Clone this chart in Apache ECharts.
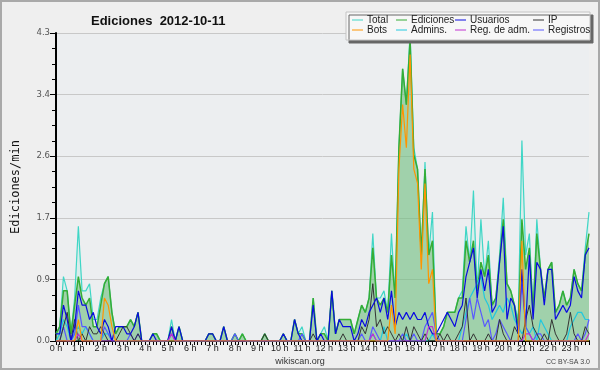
<!DOCTYPE html>
<html>
<head>
<meta charset="utf-8">
<script src="https://cdn.jsdelivr.net/npm/echarts@6/dist/echarts.min.js"></script>
<style>
  html, body { margin: 0; padding: 0; background: #efefef; }
  #chart { width: 596px; height: 366px; border: 2px solid #a9a9a9; }
</style>
</head>
<body>
<div id="chart"></div>
<script>
// 10-minute slots, one value per slot (edits per minute)
const hours = ['0','1','2','3','4','5','6','7','8','9','10','11','12','13','14','15','16','17','18','19','20','21','22','23'];
const slots = hours.flatMap(h => ['00','10','20','30','40','50'].map(m => h + ':' + m));

const total = [
  0.1,0.2,0.9,0.7,0.1,0.6, 1.6,0.7,0.7,0.8,0.3,0.3,
  0.6,0.8,0.9,0.4,0.1,0.2, 0.2,0.2,0.3,0.2,0.4,0,
  0,0,0.1,0.1,0,0, 0,0.3,0,0.2,0,0,
  0,0,0,0,0,0.1, 0.1,0,0,0.2,0,0,
  0.1,0,0.1,0,0,0, 0,0,0.1,0,0,0,
  0,0.1,0,0,0.3,0.1, 0.2,0,0,0.6,0,0.1,
  0.2,0,0.7,0.1,0.3,0.3, 0.3,0.3,0.1,0.3,0.5,0.4,
  0.6,1.5,0.6,0.6,0.7,0.4, 1.5,0.6,2.7,3.8,3.3,4.3,
  2.7,2.4,1.2,2.5,1.2,1.8, 0.1,0.1,0.2,0.4,0.4,0.4,
  0.6,0.7,1.6,1.1,2.1,0.7, 1.7,0.9,1.4,0.5,0.6,1.2,
  2.0,0.8,0.7,0.5,0.3,2.8, 1.2,1.5,0.4,1.7,1.0,0.6,
  1.0,1.1,0.4,0.5,0.7,0.5, 0.6,1.0,0.8,0.7,1.3,1.8
];
const ediciones = [
  0.1,0.2,0.7,0.7,0.1,0.5, 0.9,0.6,0.5,0.6,0.2,0.2,
  0.5,0.8,0.9,0.4,0.1,0.2, 0.2,0.2,0.3,0.2,0.4,0,
  0,0,0.1,0.1,0,0, 0,0.2,0,0.2,0,0,
  0,0,0,0,0,0.1, 0.1,0,0,0.2,0,0,
  0.1,0,0.1,0,0,0, 0,0,0.1,0,0,0,
  0,0.1,0,0,0.3,0.1, 0.1,0,0,0.6,0,0.1,
  0.1,0,0.7,0.1,0.3,0.3, 0.3,0.3,0.1,0.3,0.5,0.4,
  0.6,1.3,0.6,0.5,0.6,0.4, 1.2,0.6,2.7,3.8,3.3,4.2,
  2.6,2.4,1.2,2.4,1.2,1.4, 0.1,0.1,0.2,0.4,0.4,0.4,
  0.6,0.6,1.4,1.1,1.4,0.7, 1.1,0.9,1.2,0.5,0.6,1.1,
  1.7,0.8,0.7,0.5,0.2,1.7, 1.0,1.3,0.4,1.5,1.0,0.6,
  1.0,1.1,0.4,0.5,0.7,0.5, 0.6,1.0,0.8,0.7,1.2,1.5
];
const usuarios = [
  0.1,0.1,0.5,0.3,0,0.2, 0.7,0.5,0.5,0.3,0.4,0.2,
  0.1,0.3,0.2,0,0.2,0.2, 0.2,0.1,0.1,0.2,0.4,0,
  0,0,0.1,0,0,0, 0,0.2,0,0.2,0,0,
  0,0,0,0,0,0.1, 0.1,0,0,0.2,0,0,
  0,0,0,0,0,0, 0,0,0,0,0,0,
  0,0.1,0,0,0.3,0.1, 0,0,0,0.5,0,0.1,
  0,0,0.7,0.1,0.3,0.2, 0.2,0.2,0,0.1,0.3,0.2,
  0.4,0.5,0.6,0.4,0.6,0.3, 0.7,0.2,0.4,0.3,0.4,0.3,
  0.4,0.3,0.3,0.4,0.2,0.1, 0.1,0.2,0.3,0.4,0.3,0.2,
  0.4,0.5,0.9,1.1,1.3,0.6, 1.0,0.7,1.0,0.4,0.5,1.1,
  1.6,0.3,0.6,0.5,0.1,1.0, 0.2,1.2,0.3,1.1,1.0,0.5,
  1.0,1.0,0.3,0.4,0.5,0.4, 0.5,0.9,0.7,0.6,1.2,1.3
];
const ip = [
  0,0,0.2,0.4,0,0.3, 0,0.1,0,0.2,0.1,0.1,
  0.2,0.1,0,0,0,0.1, 0.2,0.2,0.1,0,0.1,0,
  0,0,0,0,0,0, 0,0,0,0,0,0,
  0,0,0,0,0,0, 0,0,0,0,0,0,
  0,0,0,0,0,0, 0,0,0.1,0,0,0,
  0,0,0,0,0,0, 0,0,0,0.1,0,0,
  0,0,0,0,0,0.1, 0,0,0,0,0.2,0.1,
  0.3,0.8,0.2,0.3,0.1,0.2, 0.1,0,0.1,0,0.2,0,
  0.2,0.1,0,0.1,0,0, 0,0.1,0,0.1,0,0,
  0.1,0.2,0.6,0,0.1,0, 0,0,0.1,0,0,0.3,
  0.1,0,0,0.2,0.1,0, 0.3,0.5,0.2,0.1,0,0.1,
  0,0.3,0.1,0,0,0.1, 0.4,0.1,0,0,0.2,0.1
];
const bots = [
  0,0,0,0,0,0, 0.3,0,0,0,0,0,
  0,0.6,0.5,0.2,0,0, 0,0,0,0,0,0,
  0,0,0,0,0,0, 0,0,0,0,0,0,
  0,0,0,0,0,0, 0,0,0,0,0,0,
  0,0,0,0,0,0, 0,0,0,0,0,0,
  0,0,0,0,0,0, 0,0,0,0,0,0,
  0,0,0,0,0,0, 0,0,0,0,0,0,
  0,0,0,0,0,0, 0.5,0.1,2.4,3.3,2.7,4.0,
  2.4,2.2,1.0,2.2,0.8,1.0, 0,0,0,0,0,0,
  0,0,0,0,0,0, 0,0,0,0,0,0,
  0,0,0,0,0,1.4, 0,0,0,0,0,0,
  0,0,0,0,0,0, 0,0,0,0,0,0
];
const admins = [
  0,0.1,0.3,0.2,0,0.1, 0.2,0.1,0.2,0.1,0,0,
  0,0.1,0.1,0,0,0, 0,0,0,0,0,0,
  0,0,0,0,0,0, 0,0,0,0,0,0,
  0,0,0,0,0,0, 0,0,0,0,0,0,
  0,0,0,0,0,0, 0,0,0,0,0,0,
  0,0,0,0,0,0, 0,0,0,0,0,0,
  0,0,0,0,0,0, 0,0,0,0,0,0,
  0,0.1,0,0,0.2,0, 0,0,0,0,0.1,0,
  0,0,0,0,0,0.1, 0,0,0,0,0,0,
  0,0.2,0.4,0.6,0.7,0.8, 0.9,0.6,0.5,0.3,0.4,0.5,
  0.4,0.6,0.5,0.3,0.2,0.1, 0.2,0.1,0.2,0,0.3,0.2,
  0.1,0,0,0,0,0, 0.2,0.3,0.4,0.4,0.3,0.3
];
const regAdm = [
  0,0,0,0,0,0, 0.1,0,0,0,0,0,
  0,0,0,0,0,0, 0,0,0,0,0,0,
  0,0,0,0,0,0, 0,0.1,0,0,0,0,
  0,0,0,0,0,0, 0,0,0,0,0,0,
  0,0,0,0,0,0, 0,0,0,0,0,0,
  0,0,0,0,0,0, 0,0,0,0,0,0,
  0,0,0,0,0,0, 0,0,0,0,0,0,
  0,0.1,0,0,0,0, 0,0,0,0,0,0,
  0,0,0,0,0.2,0.2, 0,0,0,0,0,0,
  0,0,0,0,0,0, 0,0,0,0,0,0,
  0,0,0,0,0,0, 0.1,0.1,0,0,0,0,
  0,0,0,0,0,0, 0,0,0,0,0,0.1
];
const registros = [
  0,0,0.2,0,0,0.1, 0.5,0.2,0.2,0.1,0,0,
  0,0.2,0.1,0,0,0, 0,0,0.1,0,0.1,0,
  0,0,0,0,0,0, 0,0.1,0,0,0,0,
  0,0,0,0,0,0, 0,0,0,0,0,0,
  0.1,0,0,0,0,0, 0,0,0,0,0,0,
  0,0,0,0,0,0, 0.1,0,0,0,0,0,
  0,0,0,0,0,0, 0,0,0,0,0.1,0,
  0,0.2,0.1,0,0,0, 0,0,0,0.1,0,0,
  0.1,0,0,0.2,0.3,0.4, 0.1,0,0,0,0,0,
  0,0,0.3,0.6,0.3,0.6, 0.4,0.2,0.3,0,0.1,0.3,
  0.2,0.1,0,0,0,0.8, 0.2,0.1,0,0.1,0.1,0,
  0,0,0,0,0,0, 0,0,0.1,0,0.1,0.3
];

const yMax = 4.3;
const yStep = 0.86;

const colors = {
  'Total': '#3fd6c6',
  'Ediciones': '#35ad35',
  'Usuarios': '#0a0ae0',
  'IP': '#333333',
  'Bots': '#ff9500',
  'Admins.': '#22c8de',
  'Reg. de adm.': '#c030d0',
  'Registros': '#5858ff'
};

function line(name, data, extra) {
  return Object.assign({
    name: name,
    type: 'line',
    data: data,
    symbol: 'none',
    lineStyle: { width: 1.2, color: colors[name] },
    itemStyle: { color: colors[name] },
    animation: false
  }, extra || {});
}

const chart = echarts.init(document.getElementById('chart'));

const legendBase = {
  orient: 'vertical',
  top: 13,
  itemWidth: 11,
  itemHeight: 1,
  itemGap: 0,
  icon: 'rect',
  z: 10,
  textStyle: { fontFamily: 'Liberation Sans', fontSize: 10, color: '#222', lineHeight: 9.5, padding: [0, 0, 0, -1] },
  padding: 0
};

chart.setOption({
  backgroundColor: '#efefef',
  title: {
    text: 'Ediciones  2012-10-11',
    left: 84,
    top: 8,
    textStyle: { fontFamily: 'Liberation Sans', fontWeight: 'bold', fontSize: 13, color: '#111' }
  },
  graphic: [
    {
      type: 'rect',
      z: 8,
      shape: { x: 344, y: 10, width: 244, height: 28 },
      style: { fill: '#f7f7f7', stroke: '#c4c4c4', lineWidth: 1, shadowColor: '#666', shadowOffsetX: 3, shadowOffsetY: 3, shadowBlur: 0 }
    },
    {
      type: 'text',
      left: 'center',
      top: 355,
      style: { text: 'wikiscan.org', fontFamily: 'Liberation Sans', fontSize: 9, fill: '#333' }
    },
    {
      type: 'text',
      right: 8,
      top: 357,
      style: { text: 'CC BY-SA 3.0', fontFamily: 'Liberation Sans', fontSize: 7, fill: '#444' }
    }
  ],
  legend: [
    Object.assign({}, legendBase, { left: 350, data: ['Total', 'Bots'] }),
    Object.assign({}, legendBase, { left: 394, data: ['Ediciones', 'Admins.'] }),
    Object.assign({}, legendBase, { left: 453, data: ['Usuarios', 'Reg. de adm.'] }),
    Object.assign({}, legendBase, { left: 531, data: ['IP', 'Registros'] })
  ],
  grid: {
    left: 46, right: 9, top: 31, bottom: 27,
    show: true, backgroundColor: '#eceef0', borderWidth: 0
  },
  xAxis: {
    type: 'category',
    data: slots,
    boundaryGap: false,
    axisLine: { lineStyle: { color: '#000', width: 2 } },
    axisTick: { interval: 0, length: 4, lineStyle: { color: '#000', width: 1 } },
    axisLabel: {
      interval: (i) => i % 6 === 0,
      formatter: (v) => parseInt(v, 10) + ' h',
      margin: 3,
      fontFamily: 'Liberation Sans',
      fontSize: 9,
      color: '#222'
    },
    splitLine: { show: false }
  },
  yAxis: {
    type: 'value',
    min: 0,
    max: yMax,
    interval: yStep,
    name: 'Ediciones/min',
    nameLocation: 'middle',
    nameGap: 34,
    nameTextStyle: { fontFamily: 'DejaVu Sans Mono', fontSize: 12, color: '#111' },
    axisLine: { show: true, lineStyle: { color: '#000', width: 2 } },
    axisTick: { show: true, length: 6, lineStyle: { color: '#000' } },
    minorTick: { show: true, splitNumber: 4, length: 4, lineStyle: { color: '#000' } },
    axisLabel: {
      formatter: (v) => (Math.round(v * 10) / 10).toFixed(1),
      fontFamily: 'DejaVu Sans',
      fontSize: 8.5,
      color: '#555',
      margin: 6
    },
    splitLine: { lineStyle: { color: '#c8c8c8', width: 1 } }
  },
  series: [
    line('Total', total, { areaStyle: { color: 'rgba(190,238,226,0.55)' }, z: 1 }),
    line('Ediciones', ediciones, { areaStyle: { color: 'rgba(55,160,55,0.5)' }, lineStyle: { width: 1.5, color: colors['Ediciones'] }, z: 2 }),
    line('Admins.', admins, { z: 3 }),
    line('Registros', registros, { z: 3 }),
    line('IP', ip, { lineStyle: { width: 1, color: colors['IP'] }, z: 3 }),
    line('Usuarios', usuarios, { z: 4 }),
    line('Reg. de adm.', regAdm, { z: 4 }),
    line('Bots', bots, { z: 5 })
  ]
});
</script>
</body>
</html>
